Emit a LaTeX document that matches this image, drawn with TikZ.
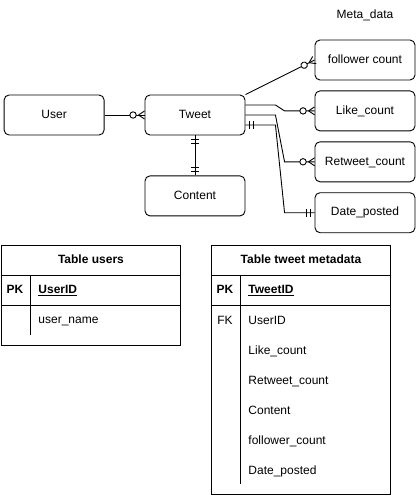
\documentclass[tikz,border=0pt]{standalone}
\usepackage{fontspec}
\setmainfont{Liberation Sans}
\usetikzlibrary{positioning,decorations.markings}

\begin{document}
\begin{tikzpicture}[
    x=1pt, y=-1pt,
    line width=0.9pt,
    font=\fontsize{12}{14}\selectfont,
    node distance=10pt,
    entity/.style={
        rectangle,
        draw,
        rounded corners=5pt,
        minimum width=100pt,
        minimum height=40pt,
        text height=9pt,
        text depth=2.5pt,
        inner sep=0pt
    },
    tablebox/.style={
        rectangle,
        draw,
        minimum width=179pt,
        inner sep=0pt,
        anchor=north west
    },
    field/.style={anchor=west, inner sep=0pt, text height=9pt, text depth=2.5pt},
    keytext/.style={font=\fontsize{12}{14}\selectfont\bfseries, inner sep=0pt,
        text height=9pt, text depth=2.5pt},
    zeromany/.style={
        postaction={decorate, decoration={markings,
            mark=at position 1 with {
                \draw[fill=white] (-11.5,0) circle (3.2);
                \draw (-6,0) -- (0,4) (-6,0) -- (0,-4);
            }}}
    },
    oneend/.style={
        postaction={decorate, decoration={markings,
            mark=at position 1 with {
                \draw (-4,-4) -- (-4,4) (-8,-4) -- (-8,4);
            }}}
    },
    onestart/.style={
        postaction={decorate, decoration={markings,
            mark=at position 0 with {
                \draw (4,-4) -- (4,4) (8,-4) -- (8,4);
            }}}
    }
]
\useasboundingbox (0,0) rectangle (416,496);

% ---------------- ENTITIES ----------------
\node[entity] (tweet) at (195,115) {Tweet};
\node[entity, left=40pt of tweet] (user) {User};
\node[entity, below=40pt of tweet] (content) {Content};

% ---------------- META DATA ----------------
\node[entity] (follower) at (365,60) {follower count};
\node[entity, below=of follower] (like) {Like\_count};
\node[entity, below=of like] (retweet) {Retweet\_count};
\node[entity, below=of retweet] (date) {Date\_posted};
\node (metalabel) at (365,15) {Meta\_data};

% ---------------- RELATIONS ----------------
\draw[zeromany] (user) -- (tweet);
\draw[onestart, oneend] (tweet) -- (content);
\draw[zeromany] (tweet.north east) -- (follower.west);
\draw[zeromany] ([yshift=10pt]tweet.east) -- ++(30,0)
    -- ([xshift=-30pt]like.west) -- (like.west);
\draw[zeromany] (tweet.east) -- ++(30,0)
    -- ([xshift=-30pt]retweet.west) -- (retweet.west);
\draw[onestart, oneend] ([yshift=-10pt]tweet.east) -- ++(30,0)
    -- ([xshift=-30pt]date.west) -- (date.west);

% ---------------- TABLE USERS ----------------
\node[tablebox, minimum height=100pt] (users) at (1,245) {};
\draw ([yshift=-30pt]users.north west) -- ([yshift=-30pt]users.north east);
\draw ([yshift=-60pt]users.north west) -- ([yshift=-60pt]users.north east);
\draw ([shift={(29pt,-30pt)}]users.north west) -- ([shift={(29pt,-90pt)}]users.north west);
\node[keytext] (usershead) at ([yshift=-15pt]users.north) {Table users};
\node[keytext] (userspk) at (15,290) {PK};
\node[field, font=\fontsize{12}{14}\selectfont\bfseries] (userid) at (38,290) {\underline{UserID}};
\node[field] (username) at (38,320) {user\_name};

% ---------------- TABLE TWEET METADATA ----------------
\node[tablebox, minimum height=249pt] (meta) at (211,245) {};
\draw ([yshift=-30pt]meta.north west) -- ([yshift=-30pt]meta.north east);
\draw ([yshift=-60pt]meta.north west) -- ([yshift=-60pt]meta.north east);
\draw ([shift={(29pt,-30pt)}]meta.north west) -- ([shift={(29pt,-239pt)}]meta.north west);
\node[keytext] (metahead) at ([yshift=-15pt]meta.north) {Table tweet metadata};
\node[keytext] (metapk) at (225,290) {PK};
\node[field, font=\fontsize{12}{14}\selectfont\bfseries] (tweetid) at (248,290) {\underline{TweetID}};
\node[inner sep=0pt, text height=9pt, text depth=2.5pt] (metafk) at (225,321) {FK};
\node[field] (fkuser) at (248,321) {UserID};
\node[field] (fklike) at (248,351) {Like\_count};
\node[field] (fkretweet) at (248,381) {Retweet\_count};
\node[field] (fkcontent) at (248,411) {Content};
\node[field] (fkfollower) at (248,441) {follower\_count};
\node[field] (fkdate) at (248,471) {Date\_posted};

\end{tikzpicture}
\end{document}
